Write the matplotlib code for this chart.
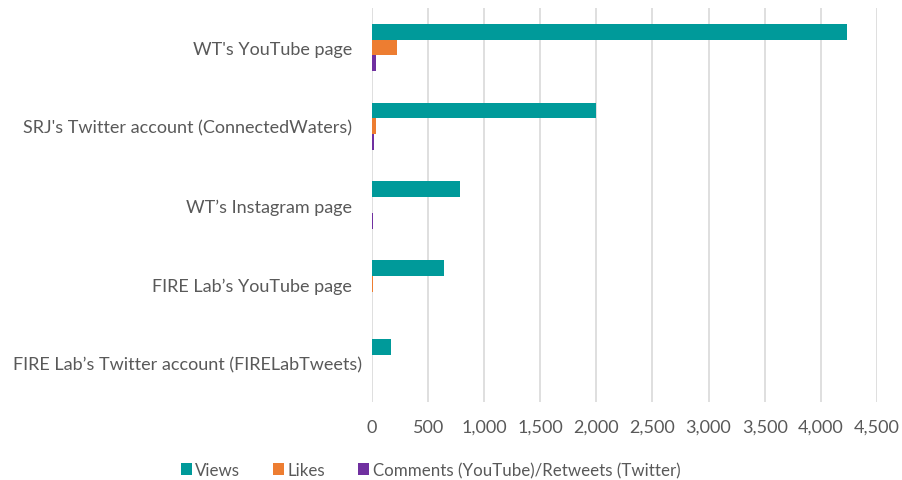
import matplotlib
matplotlib.use("Agg")
import matplotlib.pyplot as plt
import matplotlib.transforms as mtransforms
import numpy as np

categories = ["WT's YouTube page",
              "SRJ's Twitter account (ConnectedWaters)",
              "WT\u2019s Instagram page",
              "FIRE Lab\u2019s YouTube page",
              "FIRE Lab\u2019s Twitter account (FIRELabTweets)"]
views = [4230, 2000, 785, 642, 167]
likes = [225, 36, 0, 10, 3]
comments = [38, 18, 10, 2, 1]
series_names = ["Views", "Likes", "Comments (YouTube)/Retweets (Twitter)"]
colors = ["#009A9A", "#ED7D31", "#7030A0"]
xticks = np.arange(0, 4501, 500)

plt.rcParams['font.family'] = ['Lato', 'DejaVu Sans']
fs = 13
fig = plt.figure(figsize=(9.03, 4.81), dpi=100)
ax = fig.add_axes([0.412, 0.162, 0.559, 0.819])

y = np.arange(len(categories))
h = 0.2
for i, (vals, name, c) in enumerate(zip([views, likes, comments], series_names, colors)):
    ax.barh(y + (i - 1) * h, vals, height=h, color=c, label=name, zorder=3)

ax.set_yticks(y)
ax.set_yticklabels(categories, fontsize=fs, color="#595959")
ax.set_ylim(len(categories) - 0.5, -0.5)
ax.set_xlim(0, 4500)
ax.set_xticks(xticks)
ax.set_xticklabels([f"{v:,}" for v in xticks], fontsize=fs, color="#595959")
ax.grid(axis='x', color="#D9D9D9", linewidth=1.2, zorder=0)
for s in ax.spines.values():
    s.set_visible(False)
ax.tick_params(axis='x', length=0, pad=12)
ax.tick_params(axis='y', length=0, pad=14.5)

# the longest label sits closer to the axis, as in the reference
last = ax.get_yticklabels()[-1]
last.set_transform(last.get_transform() + mtransforms.ScaledTranslation(10 / 100, 0, fig.dpi_scale_trans))

fig.legend(loc='center', bbox_to_anchor=(0.477, 0.021), ncol=3, frameon=False,
           fontsize=12.2, labelcolor="#595959", handlelength=0.65, handleheight=0.65,
           columnspacing=1.95, handletextpad=0.2)

fig.savefig("out.png", dpi=100)
